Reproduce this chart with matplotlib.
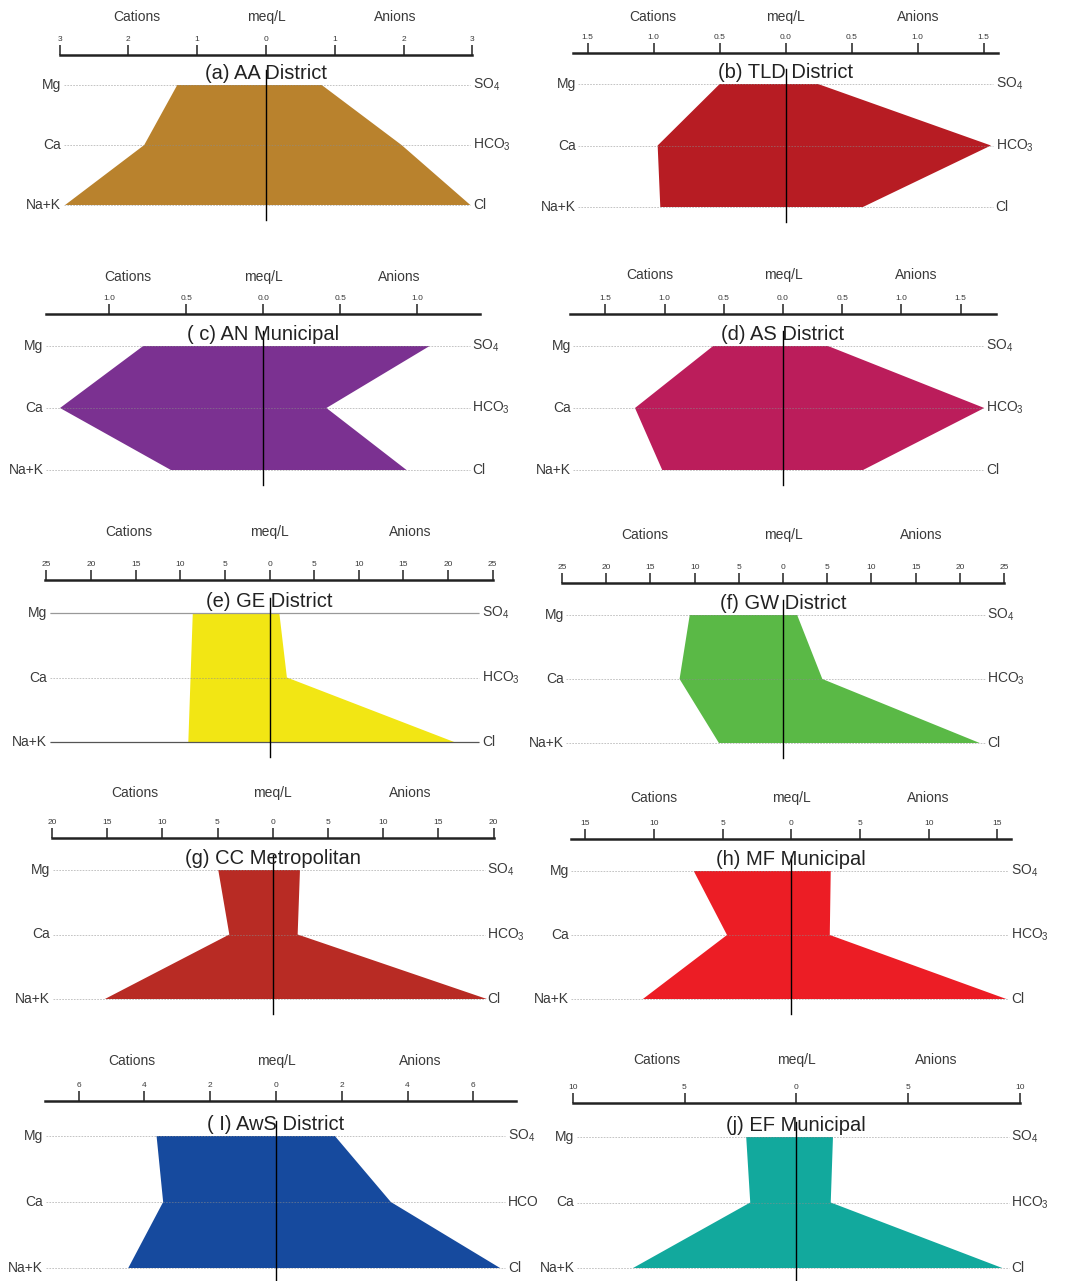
import numpy as np
import matplotlib.pyplot as plt

plt.rcParams['font.family'] = ['Liberation Sans', 'DejaVu Sans']
plt.rcParams['mathtext.fontset'] = 'custom'
plt.rcParams['mathtext.rm'] = 'Liberation Sans'

W, H = 1067, 1281
text_color = '#3a3a3a'

titles = ['(a) AA District', '(b) TLD District', '( c) AN Municipal', '(d) AS District',
          '(e) GE District', '(f) GW District', '(g) CC Metropolitan', '(h) MF Municipal',
          '( I) AwS District', '(j) EF Municipal']

cation_names = ['Na+K', 'Ca', 'Mg']
anion_names = ['Cl', 'HCO$_3$', 'SO$_4$']

# mean concentrations, meq/L
na_k = [2.92, 0.95, 0.60, 1.02, 9.1, 7.25, 15.2, 10.8, 4.49, 7.3]
ca = [1.77, 0.97, 1.32, 1.25, 8.85, 11.7, 3.93, 4.68, 3.43, 2.06]
mg = [1.29, 0.50, 0.78, 0.59, 8.6, 10.55, 4.93, 7.1, 3.63, 2.24]
cl = [2.97, 0.585, 0.93, 0.676, 20.7, 22.25, 19.4, 15.65, 6.81, 9.21]
hco3 = [1.97, 1.555, 0.41, 1.70, 1.95, 4.45, 2.26, 2.8, 3.49, 1.54]
so4 = [0.81, 0.245, 1.08, 0.38, 1.1, 1.6, 2.47, 2.87, 1.79, 1.64]

tick_max = [3, 1.5, 1.0, 1.5, 25, 25, 20, 15, 6, 10]
tick_step = [1, 0.5, 0.5, 0.5, 5, 5, 5, 5, 2, 5]
tick_fmt = ['%d', '%.1f', '%.1f', '%.1f', '%d', '%d', '%d', '%d', '%d', '%d']

fill_colors = ['#B9822D', '#B71C23', '#7B3191', '#BB1D5B', '#F2E614',
               '#5AB946', '#B82B24', '#EC1D25', '#164A9E', '#12A99D']

# panel placement in pixels: x of zero, px per meq/L, axis line y, Mg row y, Na+K row y, header y
layout = [
    (266.0, 68.8, 55, 85, 205, 17),
    (785.7, 132.0, 53, 84, 207, 17),
    (263.3, 154.0, 314, 346, 470, 277),
    (783.0, 118.4, 314, 346, 470, 275),
    (269.5, 8.92, 580, 613, 742, 532),
    (783.0, 8.84, 583, 615, 743, 535),
    (272.7, 11.04, 838, 870, 999, 793),
    (791.3, 13.74, 839, 871, 999, 798),
    (276.0, 32.9, 1101, 1136, 1268, 1061),
    (796.3, 22.36, 1103, 1137, 1268, 1060),
]
axis_range = [(-3, 3), (-1.61, 1.61), (-1.41, 1.41), (-1.80, 1.80), (-25.2, 25.1),
              (-25, 25), (-20, 20), (-16, 16), (-7.02, 7.3), (-10, 10)]
grid_range = [(-2.94, 2.97), (-1.57, 1.57), (-1.41, 1.34), (-1.77, 1.69), (-24.6, 23.5),
              (-24.5, 22.8), (-19.9, 19.2), (-16, 15.8), (-7.0, 6.96), (-9.8, 9.5)]

fig = plt.figure(figsize=(W / 100, H / 100), dpi=100)

for i in range(len(titles)):
    x0, unit, y_axis, y_mg, y_nak, y_head = layout[i]
    lo, hi = axis_range[i]
    glo, ghi = grid_range[i]
    left = x0 + lo * unit
    right = x0 + hi * unit
    ax = fig.add_axes([left / W, 1 - y_nak / H, (right - left) / W, (y_nak - y_mg) / H])
    ax.set_xlim(lo, hi)
    ax.set_ylim(0, 2)

    rows = [0, 1, 2]
    cat = [na_k[i], ca[i], mg[i]]
    an = [cl[i], hco3[i], so4[i]]
    xs = [-v for v in cat] + an[::-1]
    ys = rows + rows[::-1]
    ax.fill(xs, ys, color=fill_colors[i], lw=0, clip_on=False, zorder=2)

    ax.hlines(rows, glo, ghi, colors='#8c8c8c', linestyles=(0, (2, 1.5)), lw=0.6,
              alpha=0.6, zorder=3, clip_on=False)
    if i == 4:
        # the GE panel has solid guide lines at the outer rows
        ax.hlines([rows[0], rows[2]], glo, ghi, colors=['#555555', '#999999'], lw=0.9,
                  zorder=3, clip_on=False)
    pad = 15 / (y_nak - y_mg)
    ax.axvline(0, -pad, 1 + pad, color='black', lw=1, clip_on=False, zorder=4)

    # scale bar on top
    for s in ['left', 'right', 'bottom']:
        ax.spines[s].set_visible(False)
    ax.spines['top'].set_position(('outward', (y_mg - y_axis) * 0.72))
    ax.spines['top'].set_linewidth(1.8)
    ax.spines['top'].set_color('#222222')
    ax.xaxis.tick_top()
    ticks = np.arange(-tick_max[i], tick_max[i] + tick_step[i] / 2, tick_step[i])
    ax.set_xticks(ticks)
    ax.set_xticklabels([tick_fmt[i] % abs(t) for t in ticks])
    ax.tick_params(axis='x', top=True, bottom=False, direction='out', length=7, width=1.1,
                   pad=1.5, labelsize=6, color='#222222', labelcolor=text_color)
    ax.set_yticks([])
    ax.patch.set_alpha(0)

    names_r = list(anion_names)
    if i == 8:
        names_r[1] = 'HCO'
    for r, name_l, name_r in zip(rows, cation_names, names_r):
        ax.annotate(name_l, xy=(glo, r), xytext=(-2, 0), textcoords='offset points',
                    ha='right', va='center', fontsize=10, color=text_color, annotation_clip=False)
        ax.annotate(name_r, xy=(ghi, r), xytext=(2, 0), textcoords='offset points',
                    ha='left', va='center', fontsize=10, color=text_color, annotation_clip=False)

    hx = 0.625 * (-lo)
    head_off = (y_mg - y_head) * 0.72
    for hx_i, label in [(-hx, 'Cations'), (0, 'meq/L'), (hx, 'Anions')]:
        ax.annotate(label, xy=(hx_i, 1), xycoords=('data', 'axes fraction'),
                    xytext=(0, head_off), textcoords='offset points',
                    ha='center', va='center', fontsize=10, color=text_color,
                    annotation_clip=False)

    ax.annotate(titles[i], xy=(0, 1), xycoords=('data', 'axes fraction'),
                xytext=(0, 4), textcoords='offset points', ha='center', va='baseline',
                fontsize=14.5, color='#222222', annotation_clip=False, zorder=5)

fig.savefig('out.png', dpi=100)
